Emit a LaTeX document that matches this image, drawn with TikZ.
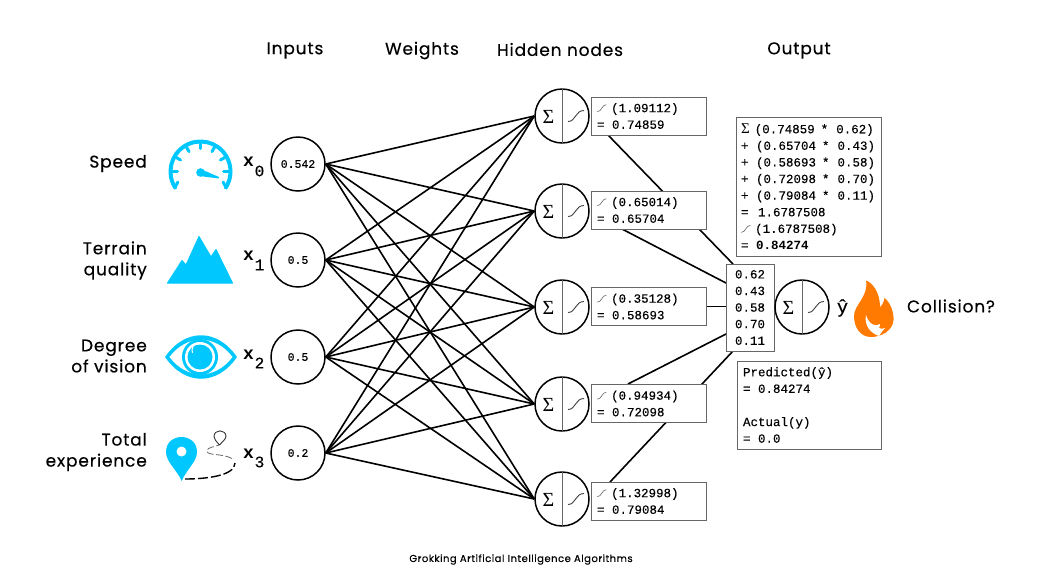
\documentclass[tikz,border=0pt]{standalone}
\usepackage{fontspec}
\usetikzlibrary{backgrounds}
\setmainfont{Liberation Mono}[FakeBold=0.25,BoldFont={Liberation Mono Bold},BoldFeatures={FakeBold=0}]
\newfontfamily\hand[LetterSpace=5,FakeBold=0.3]{Poppins}
\newfontfamily\serifg{Liberation Serif}
\definecolor{iconblue}{HTML}{00C8FF}
\definecolor{flame}{HTML}{FF7A00}
\definecolor{boxgray}{HTML}{666666}
\newcommand{\sm}{\tikz[x=1pt,y=1pt,baseline=0pt]{\draw[line width=.6pt,boxgray] (0,.5) .. controls (4.5,.5) and (4.5,7.5) .. (9,7.5);}\hspace{4.5pt}}
\newcommand{\sg}{{\serifg\fontsize{15}{15}\selectfont Σ}\hspace{5pt}}
\newcommand{\gap}{\hspace{7.5pt}}
\tikzset{
  handlabel/.style={font=\hand\fontsize{17}{21}\selectfont,inner sep=0pt,text=black},
  titlelabel/.style={handlabel,anchor=center},
  inputnode/.style={draw=black,circle,line width=1.5pt,minimum size=54pt,inner sep=0pt,font=\fontsize{11.5}{12}\selectfont},
  neuronnode/.style={draw=black,circle,line width=1.5pt,minimum size=54pt,inner sep=0pt,fill=white},
  valbox/.style={draw=boxgray,line width=.9pt,fill=white,inner xsep=6pt,inner ysep=0pt,align=left,font=\fontsize{12.5}{16.6}\selectfont},
  hidbox/.style={valbox,text width=103pt,minimum height=38pt},
  wire/.style={draw=black,line width=1.6pt},
  xlabel/.style={inner sep=0pt,font=\bfseries\fontsize{18}{18}\selectfont},
  sublabel/.style={inner sep=0pt,font=\fontsize{16}{16}\selectfont},
  iconfill/.style={fill=iconblue,draw=iconblue,line join=round},
}
\newcommand{\neuron}[3]{%
  \node[neuronnode] (#1) at (#2,#3) {};
  \draw[boxgray,line width=1pt] (#1.north) -- (#1.south);
  \node[inner sep=0pt,font=\serifg\fontsize{20}{20}\selectfont] (#1s) at (#2-13.5,#3+.5) {Σ};
  \draw[black!75,line width=.9pt] (#2+6,#3+5.5) .. controls (#2+14,#3+5.5) and (#2+13,#3-5.5) .. (#2+22,#3-5.5);
}
\newcommand{\tline}[2]{(#1\hspace{6pt}*\hspace{8pt}#2)}
\begin{document}
\begin{tikzpicture}[x=1pt,y=-1pt]
\useasboundingbox (0,0) rectangle (1043,582);
% titles
\node[titlelabel] (tinputs) at (295,50.5) {Inputs};
\node[titlelabel] (tweights) at (422,50.5) {Weights};
\node[titlelabel] (thidden) at (560,49.5) {Hidden nodes};
\node[titlelabel] (toutput) at (799,50.5) {Output};
% feature labels
\node[handlabel,anchor=east] (lspeed) at (147,163.5) {Speed};
\node[handlabel,anchor=east,align=right] (lterrain) at (147,260.5) {Terrain\\quality};
\node[handlabel,anchor=east,align=right] (ldegree) at (147,356) {Degree\\of vision};
\node[handlabel,anchor=east,align=right] (ltotal) at (147,452) {Total\\experience};
% inputs
\node[inputnode] (i0) at (298,164) {0.542};
\node[inputnode] (i1) at (298,260) {0.5};
\node[inputnode] (i2) at (298,357) {0.5};
\node[inputnode] (i3) at (298,453) {0.2};
\node[xlabel] (x0) at (248.5,162) {x};
\node[sublabel] (s0) at (259.5,171) {0};
\node[xlabel] (x1) at (248.5,256) {x};
\node[sublabel] (s1) at (259.5,265) {1};
\node[xlabel] (x2) at (248.5,355) {x};
\node[sublabel] (s2) at (259.5,363) {2};
\node[xlabel] (x3) at (248.5,454) {x};
\node[sublabel] (s3) at (259.5,462) {3};
% hidden
\neuron{h1}{562}{116}
\neuron{h2}{562}{211}
\neuron{h3}{562}{307}
\neuron{h4}{562}{404}
\neuron{h5}{562}{499}
\node[hidbox] (b1) at (648.5,116) {\sm(1.09112)\\=\gap 0.74859};
\node[hidbox] (b2) at (648.5,210) {\sm(0.65014)\\=\gap 0.65704};
\node[hidbox] (b3) at (648.5,306.5) {\sm(0.35128)\\=\gap 0.58693};
\node[hidbox] (b4) at (648.5,403.5) {\sm(0.94934)\\=\gap 0.72098};
\node[hidbox] (b5) at (648.5,501) {\sm(1.32998)\\=\gap 0.79084};
% mid box and output
\node[valbox,minimum width=48pt,minimum height=87pt,inner xsep=0pt,align=center] (m) at (750,307.5) {0.62\\0.43\\0.58\\0.70\\0.11};
\neuron{o}{802}{307}
\node[valbox,inner xsep=5pt,text width=135pt,minimum height=139pt] (top) at (808.5,186.5) {\sg\tline{0.74859}{0.62}\\+\gap\tline{0.65704}{0.43}\\+\gap\tline{0.58693}{0.58}\\+\gap\tline{0.72098}{0.70}\\+\gap\tline{0.79084}{0.11}\\=\hspace{9.5pt}1.6787508\\\sm(1.6787508)\\=\gap\textbf{0.84274}};
\node[valbox,text width=132pt,minimum height=88pt] (pred) at (809,405) {Predicted(ŷ)\\=\gap 0.84274\\[16.6pt]Actual(y)\\=\gap 0.0};
\node[inner sep=0pt,font=\fontsize{19}{19}\selectfont] (yhat) at (842.5,308) {ŷ};
\node[handlabel] (coll) at (951,306) {Collision?};
\node[inner sep=0pt,font=\hand\fontsize{10}{10}\selectfont] (credit) at (521,559.5) {Grokking Artificial Intelligence Algorithms};
% connector ends
\coordinate (c1) at (608,135);
\coordinate (d1) at (733,264);
\coordinate (c2) at (622,229);
\coordinate (d2) at (726,283);
\coordinate (c4) at (628,384);
\coordinate (d4) at (726,334);
\coordinate (c5) at (610,482);
\coordinate (d5) at (733,351);
\begin{scope}[on background layer]
  \foreach \i in {0,1,2,3}{
    \foreach \h in {1,2,3,4,5}{
      \draw[wire] (i\i.east) -- (h\h.west);
    }
  }
  \draw[wire] (c1) -- (d1);
  \draw[wire] (c2) -- (d2);
  \draw[wire] (b3.east) -- (m.west |- b3.east);
  \draw[wire] (c4) -- (d4);
  \draw[wire] (c5) -- (d5);
\end{scope}
% gauge
\begin{scope}[shift={(200.5,171.5)},x=1pt,y=1pt]
  \draw[iconblue,line width=4pt,line cap=round] (212:30) arc[start angle=212,end angle=-32,radius=30];
  \foreach \a in {0,30,60,90,120,150,180}{
    \draw[iconblue,line width=3pt,line cap=round] (\a:30) -- (\a:23);
  }
  \draw[iconblue,line width=3pt,line cap=round] (212:30) -- (205:25);
  \draw[iconblue,line width=3pt,line cap=round] (-32:30) -- (-25:25);
  \fill[iconblue] (0,-1) circle (4.3);
  \fill[iconblue] (0,2.5) -- (18.5,-5.5) -- (18,-7) -- (-1,-4.5) -- cycle;
\end{scope}
% mountain
\path[iconfill,line width=1pt] (167.5,283) -- (182,260.5) -- (186,265) -- (199,236.5) -- (211,257) -- (216,249.5) -- (232.5,283) -- cycle;
% eye
\fill[iconblue] (165,357) .. controls (185,328) and (217,328) .. (237,357) .. controls (217,386) and (185,386) .. (165,357) -- cycle;
\fill[white] (169.5,357) .. controls (187,334) and (215,334) .. (232.5,357) .. controls (215,380) and (187,380) .. (169.5,357) -- cycle;
\fill[iconblue] (200,357) circle (18);
\fill[white] (200,357) circle (15);
\fill[iconblue] (200,357) circle (12.5);
\draw[white,line width=1pt] (192.5,353) arc[start angle=200,end angle=110,radius=8,x radius=8,y radius=-8];
% pin
\fill[iconblue] (181.7,481) .. controls (177,470) and (166,462) .. (166,452) .. controls (166,432) and (197,432) .. (197,452) .. controls (197,462) and (186,470) .. (181.7,481) -- cycle;
\fill[white] (181.5,451.5) circle (5);
\draw[black,line width=1.4pt,dash pattern=on 10pt off 3pt] (185,479) .. controls (205,479) and (235,476) .. (235,463);
\draw[black!60,line width=.8pt,dash pattern=on 7pt off 2.5pt] (232,458.5) .. controls (222,453) and (207,456) .. (207,451) .. controls (207,447) and (215,447) .. (219,445);
\draw[black!80,line width=.9pt,line join=round] (219.5,445) .. controls (216,441) and (214,439) .. (214,436.5) .. controls (214,429) and (226,429) .. (226,436.5) .. controls (226,439) and (222,442) .. (219.5,445) -- cycle;
% flame
\fill[flame] (866,280.5) .. controls (873,283) and (880,293) .. (880,307) .. controls (883,305) and (884,300) .. (884.5,298) .. controls (890,302) and (894,312) .. (893.5,320) .. controls (893,330) and (882,337) .. (871,337) .. controls (860,337) and (854,327) .. (854,316) .. controls (854,305) and (869,296) .. (866,280.5) -- cycle;
\fill[white] (866,315) .. controls (864,325) and (870,333) .. (879,336) .. controls (881,333) and (883,330) .. (885,328) .. controls (883,329) and (881,329) .. (879,328) .. controls (880,326) and (880,325) .. (880,324) .. controls (876,327) and (869,325) .. (866,315) -- cycle;
\end{tikzpicture}
\end{document}
